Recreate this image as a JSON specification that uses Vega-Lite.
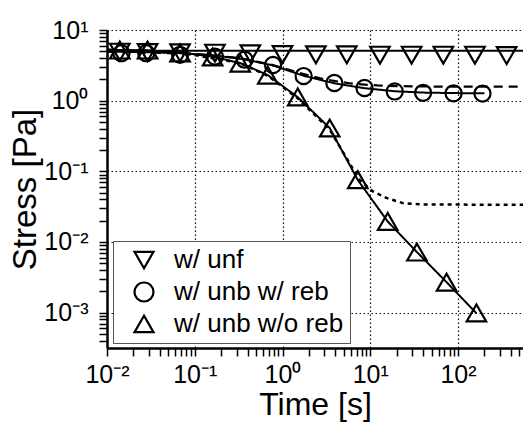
{
  "$schema": "https://vega.github.io/schema/vega-lite/v6.json",
  "width": 416,
  "height": 318,
  "autosize": {"type": "none"},
  "padding": {"left": 107, "top": 30, "right": 0, "bottom": 74},
  "background": "white",
  "config": {
    "view": {"stroke": null},
    "font": "Liberation Sans",
    "axis": {
      "labelFont": "Liberation Sans",
      "labelFontSize": 25,
      "labelColor": "black",
      "labelOverlap": false,
      "labelFlush": false,
      "labelBound": false,
      "titleFont": "Liberation Sans",
      "titleFontWeight": "normal",
      "titleColor": "black",
      "domainColor": "black",
      "domainWidth": 2.5,
      "ticks": true,
      "tickColor": "black",
      "tickWidth": 1.5,
      "tickSize": 8,
      "grid": true,
      "gridColor": "#111111",
      "gridWidth": 1.2,
      "gridDash": [1.5, 2.5]
    },
    "legend": {
      "title": null,
      "orient": "none",
      "legendX": 6,
      "legendY": 211,
      "fillColor": "white",
      "strokeColor": "#555555",
      "padding": 6,
      "symbolOffset": 12,
      "labelOffset": 17,
      "labelFont": "Liberation Sans",
      "labelFontSize": 26,
      "labelColor": "black",
      "labelLimit": 400,
      "rowPadding": 5,
      "symbolSize": 360,
      "symbolStrokeWidth": 2.2,
      "symbolStrokeColor": "black",
      "symbolFillColor": "transparent"
    }
  },
  "datasets": {
    "fits": [
      {"curve": "unf", "style": "solid", "t": 0.01, "s": 5.1},
      {"curve": "unf", "style": "solid", "t": 600, "s": 5.1},

      {"curve": "reb", "style": "solid", "t": 0.01, "s": 4.95},
      {"curve": "reb", "style": "solid", "t": 0.03, "s": 4.85},
      {"curve": "reb", "style": "solid", "t": 0.07, "s": 4.7},
      {"curve": "reb", "style": "solid", "t": 0.17, "s": 4.35},
      {"curve": "reb", "style": "solid", "t": 0.37, "s": 3.85},
      {"curve": "reb", "style": "solid", "t": 0.78, "s": 3.15},
      {"curve": "reb", "style": "solid", "t": 1.74, "s": 2.25},
      {"curve": "reb", "style": "solid", "t": 3.9, "s": 1.76},
      {"curve": "reb", "style": "solid", "t": 8.6, "s": 1.5},
      {"curve": "reb", "style": "solid", "t": 19, "s": 1.36},
      {"curve": "reb", "style": "solid", "t": 40, "s": 1.3},
      {"curve": "reb", "style": "solid", "t": 89, "s": 1.28},
      {"curve": "reb", "style": "solid", "t": 200, "s": 1.27},

      {"curve": "reb-model", "style": "dashed", "t": 0.01, "s": 4.95},
      {"curve": "reb-model", "style": "dashed", "t": 0.1, "s": 4.6},
      {"curve": "reb-model", "style": "dashed", "t": 0.3, "s": 4.05},
      {"curve": "reb-model", "style": "dashed", "t": 0.7, "s": 3.3},
      {"curve": "reb-model", "style": "dashed", "t": 1.5, "s": 2.5},
      {"curve": "reb-model", "style": "dashed", "t": 3, "s": 2.0},
      {"curve": "reb-model", "style": "dashed", "t": 6, "s": 1.75},
      {"curve": "reb-model", "style": "dashed", "t": 12, "s": 1.64},
      {"curve": "reb-model", "style": "dashed", "t": 30, "s": 1.59},
      {"curve": "reb-model", "style": "dashed", "t": 100, "s": 1.58},
      {"curve": "reb-model", "style": "dashed", "t": 600, "s": 1.58},

      {"curve": "woreb", "style": "solid", "t": 0.01, "s": 5.25},
      {"curve": "woreb", "style": "solid", "t": 0.029, "s": 5.15},
      {"curve": "woreb", "style": "solid", "t": 0.068, "s": 4.8},
      {"curve": "woreb", "style": "solid", "t": 0.16, "s": 4.2},
      {"curve": "woreb", "style": "solid", "t": 0.33, "s": 3.4},
      {"curve": "woreb", "style": "solid", "t": 0.68, "s": 2.3},
      {"curve": "woreb", "style": "solid", "t": 1.49, "s": 1.12},
      {"curve": "woreb", "style": "solid", "t": 3.45, "s": 0.41},
      {"curve": "woreb", "style": "solid", "t": 7.2, "s": 0.0755},
      {"curve": "woreb", "style": "solid", "t": 15.8, "s": 0.0195},
      {"curve": "woreb", "style": "solid", "t": 34, "s": 0.0072},
      {"curve": "woreb", "style": "solid", "t": 74, "s": 0.0027},
      {"curve": "woreb", "style": "solid", "t": 162, "s": 0.00098},

      {"curve": "woreb-model", "style": "dotted", "t": 0.01, "s": 5.25},
      {"curve": "woreb-model", "style": "dotted", "t": 0.068, "s": 4.8},
      {"curve": "woreb-model", "style": "dotted", "t": 0.33, "s": 3.4},
      {"curve": "woreb-model", "style": "dotted", "t": 0.68, "s": 2.25},
      {"curve": "woreb-model", "style": "dotted", "t": 1.49, "s": 1.08},
      {"curve": "woreb-model", "style": "dotted", "t": 3.45, "s": 0.39},
      {"curve": "woreb-model", "style": "dotted", "t": 7.5, "s": 0.076},
      {"curve": "woreb-model", "style": "dotted", "t": 10.7, "s": 0.052},
      {"curve": "woreb-model", "style": "dotted", "t": 15.3, "s": 0.042},
      {"curve": "woreb-model", "style": "dotted", "t": 23.5, "s": 0.0355},
      {"curve": "woreb-model", "style": "dotted", "t": 40, "s": 0.034},
      {"curve": "woreb-model", "style": "dotted", "t": 600, "s": 0.0335}
    ],
    "measured": [
      {"sample": "w/ unf", "t": 0.014, "s": 4.85},
      {"sample": "w/ unf", "t": 0.029, "s": 4.8},
      {"sample": "w/ unf", "t": 0.068, "s": 4.75},
      {"sample": "w/ unf", "t": 0.17, "s": 4.7},
      {"sample": "w/ unf", "t": 0.43, "s": 4.6},
      {"sample": "w/ unf", "t": 1.0, "s": 4.5},
      {"sample": "w/ unf", "t": 2.4, "s": 4.45},
      {"sample": "w/ unf", "t": 5.4, "s": 4.45},
      {"sample": "w/ unf", "t": 12.9, "s": 4.4},
      {"sample": "w/ unf", "t": 29.6, "s": 4.4},
      {"sample": "w/ unf", "t": 68, "s": 4.4},
      {"sample": "w/ unf", "t": 156, "s": 4.4},
      {"sample": "w/ unf", "t": 358, "s": 4.35},

      {"sample": "w/ unb w/ reb", "t": 0.0146, "s": 4.7},
      {"sample": "w/ unb w/ reb", "t": 0.028, "s": 4.7},
      {"sample": "w/ unb w/ reb", "t": 0.068, "s": 4.45},
      {"sample": "w/ unb w/ reb", "t": 0.17, "s": 4.2},
      {"sample": "w/ unb w/ reb", "t": 0.37, "s": 3.8},
      {"sample": "w/ unb w/ reb", "t": 0.78, "s": 3.2},
      {"sample": "w/ unb w/ reb", "t": 1.74, "s": 2.23},
      {"sample": "w/ unb w/ reb", "t": 3.9, "s": 1.78},
      {"sample": "w/ unb w/ reb", "t": 8.6, "s": 1.51},
      {"sample": "w/ unb w/ reb", "t": 19, "s": 1.35},
      {"sample": "w/ unb w/ reb", "t": 40, "s": 1.29},
      {"sample": "w/ unb w/ reb", "t": 89, "s": 1.27},
      {"sample": "w/ unb w/ reb", "t": 190, "s": 1.26},

      {"sample": "w/ unb w/o reb", "t": 0.014, "s": 5.2},
      {"sample": "w/ unb w/o reb", "t": 0.029, "s": 5.2},
      {"sample": "w/ unb w/o reb", "t": 0.068, "s": 4.75},
      {"sample": "w/ unb w/o reb", "t": 0.16, "s": 4.15},
      {"sample": "w/ unb w/o reb", "t": 0.33, "s": 3.4},
      {"sample": "w/ unb w/o reb", "t": 0.68, "s": 2.3},
      {"sample": "w/ unb w/o reb", "t": 1.49, "s": 1.13},
      {"sample": "w/ unb w/o reb", "t": 3.45, "s": 0.41},
      {"sample": "w/ unb w/o reb", "t": 7.2, "s": 0.076},
      {"sample": "w/ unb w/o reb", "t": 15.8, "s": 0.0195},
      {"sample": "w/ unb w/o reb", "t": 34, "s": 0.0072},
      {"sample": "w/ unb w/o reb", "t": 74, "s": 0.0027},
      {"sample": "w/ unb w/o reb", "t": 162, "s": 0.00099}
    ]
  },
  "encoding": {
    "x": {
      "field": "t",
      "type": "quantitative",
      "scale": {"type": "log", "domain": [0.01, 550], "nice": false},
      "axis": {
        "title": "Time [s]",
        "titleFontSize": 32,
        "titlePadding": 2,
        "labelPadding": 6,
        "values": [0.01, 0.02, 0.03, 0.04, 0.05, 0.06, 0.07, 0.08, 0.09,
                   0.1, 0.2, 0.3, 0.4, 0.5, 0.6, 0.7, 0.8, 0.9,
                   1, 2, 3, 4, 5, 6, 7, 8, 9,
                   10, 20, 30, 40, 50, 60, 70, 80, 90,
                   100, 200, 300, 400, 500],
        "labelExpr": "abs(log(datum.value)/LN10 - round(log(datum.value)/LN10)) < 1e-6 ? ['10⁻³','10⁻²','10⁻¹','10⁰','10¹','10²'][round(log(datum.value)/LN10) + 3] : ''",
        "gridOpacity": {"condition": {"test": "abs(log(datum.value)/LN10 - round(log(datum.value)/LN10)) < 1e-6", "value": 1}, "value": 0},
        "encode": {
          "ticks": {"update": {"y2": {"signal": "abs(log(datum.value)/LN10 - round(log(datum.value)/LN10)) < 1e-6 ? -8 : -4"}}}
        }
      }
    },
    "y": {
      "field": "s",
      "type": "quantitative",
      "scale": {"type": "log", "domain": [0.000316, 10], "nice": false},
      "axis": {
        "title": "Stress [Pa]",
        "titleFontSize": 33,
        "titlePadding": 1,
        "labelPadding": 11,
        "values": [0.0004, 0.0005, 0.0006, 0.0007, 0.0008, 0.0009,
                   0.001, 0.002, 0.003, 0.004, 0.005, 0.006, 0.007, 0.008, 0.009,
                   0.01, 0.02, 0.03, 0.04, 0.05, 0.06, 0.07, 0.08, 0.09,
                   0.1, 0.2, 0.3, 0.4, 0.5, 0.6, 0.7, 0.8, 0.9,
                   1, 2, 3, 4, 5, 6, 7, 8, 9, 10],
        "labelExpr": "abs(log(datum.value)/LN10 - round(log(datum.value)/LN10)) < 1e-6 ? ['10⁻³','10⁻²','10⁻¹','10⁰','10¹','10²'][round(log(datum.value)/LN10) + 3] : ''",
        "gridOpacity": {"condition": {"test": "abs(log(datum.value)/LN10 - round(log(datum.value)/LN10)) < 1e-6", "value": 1}, "value": 0},
        "encode": {
          "ticks": {"update": {"x2": {"signal": "abs(log(datum.value)/LN10 - round(log(datum.value)/LN10)) < 1e-6 ? 8 : 4"}}}
        }
      }
    }
  },
  "layer": [
    {
      "data": {"name": "fits"},
      "mark": {"type": "line", "color": "black", "clip": true},
      "encoding": {
        "detail": {"field": "curve", "type": "nominal"},
        "strokeDash": {
          "field": "style",
          "type": "nominal",
          "scale": {"domain": ["solid", "dashed", "dotted"], "range": [[1, 0], [9, 6], [4, 4]]},
          "legend": null
        },
        "strokeWidth": {
          "field": "style",
          "type": "nominal",
          "scale": {"domain": ["solid", "dashed", "dotted"], "range": [2, 2.5, 3]},
          "legend": null
        }
      }
    },
    {
      "data": {"name": "measured"},
      "transform": [{"filter": "datum.sample !== 'w/ unb w/ reb'"}],
      "mark": {"type": "point", "filled": false, "color": "black", "strokeWidth": 2.2, "size": 380, "opacity": 1, "clip": true},
      "encoding": {
        "shape": {
          "field": "sample",
          "type": "nominal",
          "scale": {
            "domain": ["w/ unf", "w/ unb w/ reb", "w/ unb w/o reb"],
            "range": ["triangle-down", "circle", "triangle-up"]
          }
        }
      }
    },
    {
      "data": {"name": "measured"},
      "transform": [{"filter": "datum.sample === 'w/ unb w/ reb'"}],
      "mark": {"type": "point", "filled": false, "color": "black", "strokeWidth": 2.2, "size": 260, "opacity": 1, "clip": true},
      "encoding": {
        "shape": {
          "field": "sample",
          "type": "nominal",
          "scale": {
            "domain": ["w/ unf", "w/ unb w/ reb", "w/ unb w/o reb"],
            "range": ["triangle-down", "circle", "triangle-up"]
          }
        }
      }
    }
  ]
}
